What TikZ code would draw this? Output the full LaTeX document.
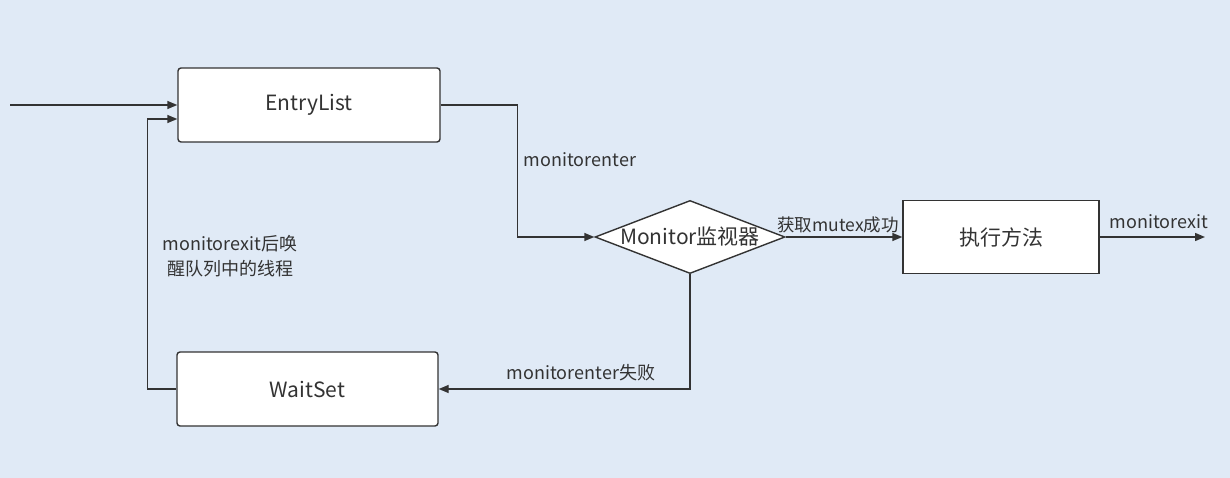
\documentclass[tikz,border=0pt]{standalone}
\usepackage{fontspec}
\setmainfont{Noto Sans CJK SC}
\usetikzlibrary{shapes.geometric,arrows.meta}
\definecolor{bg}{HTML}{E0EAF6}
\definecolor{ln}{HTML}{333333}
\definecolor{tx}{HTML}{333333}
\tikzset{
  box/.style={draw=ln, fill=white, line width=1.4pt, inner sep=0pt, text=tx, font=\fontsize{21}{24}\selectfont},
  arr/.style={draw=ln, line width=1.4pt, -{Triangle[length=10pt,width=8pt]}},
  lbl/.style={text=tx, inner sep=0pt, font=\fontsize{18}{25}\selectfont}
}
\begin{document}
\begin{tikzpicture}[x=1pt,y=-1pt]
\fill[bg] (0,0) rectangle (1230,478);
\useasboundingbox (0,0) rectangle (1230,478);
\node[box, rounded corners=3pt, minimum width=262pt, minimum height=74pt] (entry) at (309,105) {EntryList};
\node[box, rounded corners=3pt, minimum width=261pt, minimum height=74pt] (wait) at (307.5,389) {WaitSet};
\node[box, diamond, aspect=2.6, minimum width=190pt, minimum height=73pt] (mon) at (690,237) {Monitor监视器};
\node[box, minimum width=196pt, minimum height=73pt] (exec) at (1001,237) {执行方法};
\coordinate (in) at (10,105);
\coordinate (out) at (1205,237);
\draw[arr] (in) -- (entry.west);
\draw[arr] (wait.west) -- ++(-29,0) |- ([yshift=-14pt]entry.west);
\draw[arr] (entry.east) -- ++(77,0) |- (mon.west);
\draw[arr] (mon.east) -- (exec.west);
\draw[arr] (exec.east) -- (out);
\draw[arr] (mon.south) |- (wait.east);
\node[lbl] (l1) at (580,160) {monitorenter};
\node[lbl, align=center] (l2) at (230,256) {monitorexit后唤\\醒队列中的线程};
\node[lbl, anchor=south, font=\fontsize{17.5}{20}\selectfont] (l3) at (838,233) {获取mutex成功};
\node[lbl, anchor=south] (l4) at (1159,229) {monitorexit};
\node[lbl] (l5) at (581,373) {monitorenter失败};
\end{tikzpicture}
\end{document}
